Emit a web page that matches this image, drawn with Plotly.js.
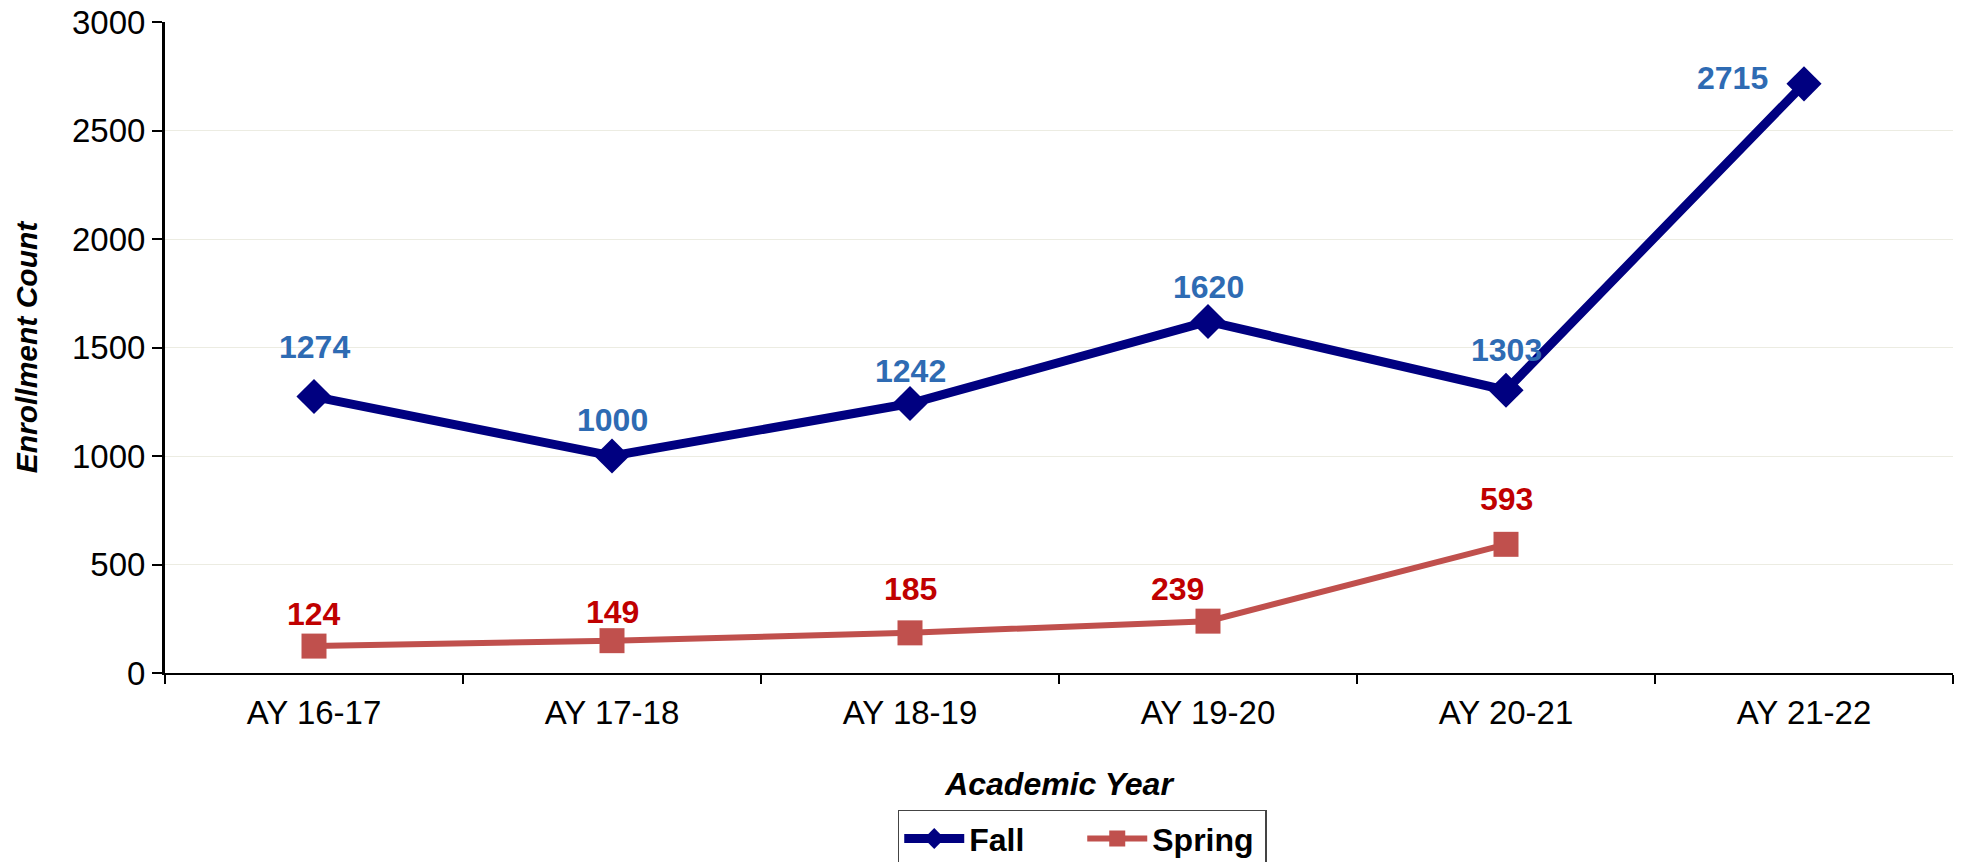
<!DOCTYPE html>
<html>
<head>
<meta charset="utf-8">
<script src="https://cdn.plot.ly/plotly-3.0.1.min.js"></script>
<style>html,body{margin:0;padding:0;background:#fff;}#chart{width:1963px;height:862px;}</style>
</head>
<body>
<div id="chart"></div>
<script>
// ---- data ----
const years = ["AY 16-17", "AY 17-18", "AY 18-19", "AY 19-20", "AY 20-21", "AY 21-22"];
const fallValues = [1274, 1000, 1242, 1620, 1303, 2715];
const springValues = [124, 149, 185, 239, 593, null];
const seriesNames = ["Fall", "Spring"];

// ---- label offsets (pixels, style only) ----
const fallLabelShift = [[0, 50], [0, 36], [0, 32], [0, 34], [0, 40], [-72, 6]];
const springLabelShift = [[0, 32], [0, 29], [0, 44], [-31, 32], [0, 45], [0, 0]];

const FONT = "Arial, 'Liberation Sans', sans-serif";
const fallColor = "#000080";
const springColor = "#C0504D";

const traces = [
  {
    x: years, y: fallValues, name: seriesNames[0], type: "scatter", mode: "lines+markers",
    line: {color: fallColor, width: 9},
    marker: {symbol: "diamond", size: 27, color: fallColor},
    hoverinfo: "x+y"
  },
  {
    x: years, y: springValues, name: seriesNames[1], type: "scatter", mode: "lines+markers",
    line: {color: springColor, width: 6},
    marker: {symbol: "square", size: 25, color: springColor},
    connectgaps: false,
    hoverinfo: "x+y"
  }
];

const annotations = [];
years.forEach((yr, i) => {
  if (fallValues[i] != null) {
    annotations.push({
      x: yr, y: fallValues[i], xref: "x", yref: "y", text: String(fallValues[i]),
      showarrow: false, xshift: fallLabelShift[i][0], yshift: fallLabelShift[i][1],
      font: {family: FONT, size: 32, color: "#2E6BB3", weight: "bold"}
    });
  }
  if (springValues[i] != null) {
    annotations.push({
      x: yr, y: springValues[i], xref: "x", yref: "y", text: String(springValues[i]),
      showarrow: false, xshift: springLabelShift[i][0], yshift: springLabelShift[i][1],
      font: {family: FONT, size: 32, color: "#C00000", weight: "bold"}
    });
  }
});

const layout = {
  width: 1963, height: 862,
  paper_bgcolor: "#ffffff", plot_bgcolor: "#ffffff",
  margin: {l: 165, r: 10, t: 22, b: 189, autoexpand: false},
  font: {family: FONT, size: 32, color: "#000"},
  showlegend: true,
  legend: {
    orientation: "h", x: 0.513, xanchor: "center", y: -0.21, yanchor: "top",
    bordercolor: "#444", borderwidth: 1.5, bgcolor: "#fff",
    font: {family: FONT, size: 32, color: "#000", weight: "bold"},
    itemwidth: 60, entrywidth: 108, entrywidthmode: "pixels", tracegroupgap: 0
  },
  xaxis: {
    type: "category",
    tickson: "boundaries",
    ticks: "outside", ticklen: 9, tickwidth: 1.5, tickcolor: "#000",
    showline: true, linecolor: "#000", linewidth: 1.5,
    showgrid: false, zeroline: false,
    tickfont: {family: FONT, size: 33, color: "#000"},
    ticklabelstandoff: 10,
    range: [-0.5, 5.5],
    title: {text: "<i>Academic Year</i>", standoff: 42,
            font: {family: FONT, size: 32, color: "#000", weight: "bold"}}
  },
  yaxis: {
    range: [0, 3000], dtick: 500, tick0: 0,
    ticks: "outside", ticklen: 10, tickwidth: 2, tickcolor: "#000",
    showline: true, linecolor: "#000", linewidth: 3,
    showgrid: true, gridcolor: "#ECECE2", gridwidth: 1,
    zeroline: false,
    tickfont: {family: FONT, size: 33, color: "#000"},
    title: {text: "<i>Enrollment Count</i>", standoff: 26,
            font: {family: FONT, size: 30, color: "#000", weight: "bold"}}
  },
  annotations: annotations
};

Plotly.newPlot("chart", traces, layout, {displayModeBar: false, staticPlot: true});
</script>
</body>
</html>
